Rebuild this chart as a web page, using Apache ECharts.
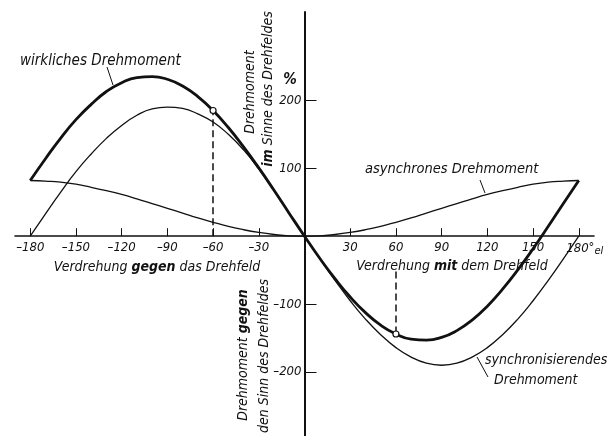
<!DOCTYPE html>
<html>
<head>
<meta charset="utf-8">
<script src="https://cdn.jsdelivr.net/npm/echarts/dist/echarts.min.js"></script>
<style>
	html, body { margin: 0; padding: 0; background: #fff; }
	#main { width: 610px; height: 436px; }
</style>
</head>
<body>
<div id="main"></div>
<script>
// rotation angle in degrees el., step 10
var xDeg = [-180, -170, -160, -150, -140, -130, -120, -110, -100, -90, -80, -70, -60, -50, -40, -30, -20, -10,
	0, 10, 20, 30, 40, 50, 60, 70, 80, 90, 100, 110, 120, 130, 140, 150, 160, 170, 180];

// synchronisierendes Drehmoment (%)
var syncVals = [0, 33, 65, 95, 121, 144, 163, 178, 187.5, 190, 188, 180, 168, 150, 127, 99, 67, 34,
	0, -33, -65, -95, -122, -145, -164, -178, -187, -190, -187, -178, -164, -145, -122, -95, -65, -33, 0];

// asynchrones Drehmoment (%)
var asyncVals = [82, 81, 79.5, 76.5, 72, 67, 61.5, 55, 48, 41, 34, 27, 20.5, 14.5, 9.5, 5.5, 2.5, 0.5,
	0, 0.5, 2.5, 5.5, 9.5, 14.5, 20.5, 27, 34, 41, 48, 55, 61.5, 67, 72, 76.5, 79.5, 81, 82];

// wirkliches Drehmoment (%)
var totalVals = [82, 114, 144.5, 171.5, 194, 213, 226, 233.5, 235, 231, 221, 205.5, 185, 160, 131.5, 100.5, 67.5, 33.5,
	0, -32.5, -62.5, -89.5, -112.5, -131, -144, -151.5, -153, -149, -139, -123.5, -103, -78, -49.5, -18.5, 14.5, 48.5, 82];

// marked operating points and their drop lines
var pointX = [-60, 60];
var pointY = [185, -144];
var dropFrom = [0, -52];

var xTicks = [-180, -150, -120, -90, -60, -30, 30, 60, 90, 120, 150, 180];
var yTicks = [-200, -100, 100, 200];

var FONT = "'DejaVu Sans Condensed', 'Liberation Sans Narrow', sans-serif";
var INK = '#111';

// grid box: x -190..190 over 15..594, y -300..330 over 12..440
var GRID = { left: 15, right: 16, top: 12, bottom: -4 };
var X_AXIS_OFFSET = -(440 - 236.2);   // lift x axis up to the zero line
var Y_AXIS_OFFSET = -(304.5 - 15);    // push y axis right to the zero line

function pairs(ys) {
	return xDeg.map(function(x, i) { return [x, ys[i]]; });
}

function minus(v) {
	return v < 0 ? '\u2013' + (-v) : '' + v;
}

function label(txt, x, y, opt) {
	opt = opt || {};
	var size = opt.size || 14;
	return {
		type: 'text',
		x: x,
		y: y,
		rotation: opt.rot || 0,
		style: {
			text: txt,
			fill: INK,
			fontFamily: FONT,
			fontSize: size,
			fontStyle: 'italic',
			fontWeight: opt.bold ? 'bold' : 'normal',
			textAlign: opt.align || 'left',
			textVerticalAlign: 'middle',
			rich: {
				b: { fontFamily: FONT, fontSize: size, fontStyle: 'italic', fontWeight: 'bold', fill: INK }
			}
		}
	};
}

function leader(x1, y1, x2, y2) {
	return {
		type: 'line',
		shape: { x1: x1, y1: y1, x2: x2, y2: y2 },
		style: { stroke: INK, lineWidth: 1 }
	};
}

var chart = echarts.init(document.getElementById('main'), null, { renderer: 'canvas' });

var dropLines = pointX.map(function(x, i) {
	return [{ coord: [x, dropFrom[i]] }, { coord: [x, pointY[i]] }];
});

var option = {
	animation: false,
	backgroundColor: '#fff',
	grid: {
		left: GRID.left, right: GRID.right, top: GRID.top, bottom: GRID.bottom,
		containLabel: false,
		outerBoundsMode: 'none'
	},
	xAxis: {
		type: 'value',
		min: -190,
		max: 190,
		position: 'bottom',
		offset: X_AXIS_OFFSET,
		splitLine: { show: false },
		axisLine: { onZero: false, lineStyle: { color: INK, width: 1.6 } },
		axisTick: { inside: true, length: 8, customValues: xTicks, lineStyle: { color: INK, width: 1 } },
		axisLabel: {
			customValues: xTicks,
			margin: 5,
			color: INK,
			fontFamily: FONT,
			fontSize: 13,
			fontStyle: 'italic',
			formatter: function(v) {
				if (v === 180) return '{a|180}{d|\u00b0}{e|el}';
				return minus(v);
			},
			rich: {
				a: { fontFamily: FONT, fontSize: 13, fontStyle: 'italic', color: INK, lineHeight: 15, padding: [0, 0, 0, 12] },
				d: { fontFamily: FONT, fontSize: 13, fontStyle: 'italic', color: INK, lineHeight: 15, verticalAlign: 'top' },
				e: { fontFamily: FONT, fontSize: 11, fontStyle: 'italic', color: INK, lineHeight: 15, verticalAlign: 'bottom', padding: [6, 0, 0, 0] }
			}
		}
	},
	yAxis: {
		type: 'value',
		min: -300,
		max: 330,
		position: 'left',
		offset: Y_AXIS_OFFSET,
		splitLine: { show: false },
		axisLine: { onZero: false, lineStyle: { color: INK, width: 2 } },
		axisTick: { inside: true, length: 12, customValues: yTicks, lineStyle: { color: INK, width: 1 } },
		axisLabel: {
			customValues: yTicks,
			margin: 3,
			color: INK,
			fontFamily: FONT,
			fontSize: 13,
			fontStyle: 'italic',
			formatter: minus
		}
	},
	series: [{
		name: 'synchronisierendes Drehmoment',
		type: 'line',
		smooth: true,
		showSymbol: false,
		lineStyle: { color: INK, width: 1.3 },
		data: pairs(syncVals)
	}, {
		name: 'asynchrones Drehmoment',
		type: 'line',
		smooth: true,
		showSymbol: false,
		lineStyle: { color: INK, width: 1.3 },
		data: pairs(asyncVals)
	}, {
		name: 'wirkliches Drehmoment',
		type: 'line',
		smooth: true,
		showSymbol: false,
		lineStyle: { color: INK, width: 2.8 },
		data: pairs(totalVals),
		markLine: {
			silent: true,
			symbol: 'none',
			label: { show: false },
			lineStyle: { color: INK, width: 1.5, type: [7, 4] },
			data: dropLines
		}
	}, {
		type: 'scatter',
		symbol: 'circle',
		symbolSize: 6,
		z: 5,
		itemStyle: { color: '#fff', borderColor: INK, borderWidth: 1.2, opacity: 1 },
		data: pointX.map(function(x, i) { return [x, pointY[i]]; })
	}],
	graphic: [
		label('wirkliches Drehmoment', 20, 61, { size: 15 }),
		leader(107, 67, 113, 85),
		label('asynchrones Drehmoment', 365, 169, { size: 14.5 }),
		leader(480, 180, 485, 193),
		label('synchronisierendes', 485, 360),
		label('Drehmoment', 494, 380),
		leader(477, 357, 488, 377),
		label('Verdrehung {b|gegen} das Drehfeld', 157, 267, { align: 'center' }),
		label('Verdrehung {b|mit} dem Drehfeld', 452, 266, { align: 'center' }),
		label('%', 290, 80, { align: 'center', bold: true, size: 15 }),
		label('Drehmoment', 250, 92, { align: 'center', rot: Math.PI / 2 }),
		label('{b|im} Sinne des Drehfeldes', 268, 89, { align: 'center', rot: Math.PI / 2 }),
		label('Drehmoment {b|gegen}', 243, 355, { align: 'center', rot: Math.PI / 2 }),
		label('den Sinn des Drehfeldes', 264, 356, { align: 'center', rot: Math.PI / 2 })
	]
};

chart.setOption(option);
</script>
</body>
</html>
